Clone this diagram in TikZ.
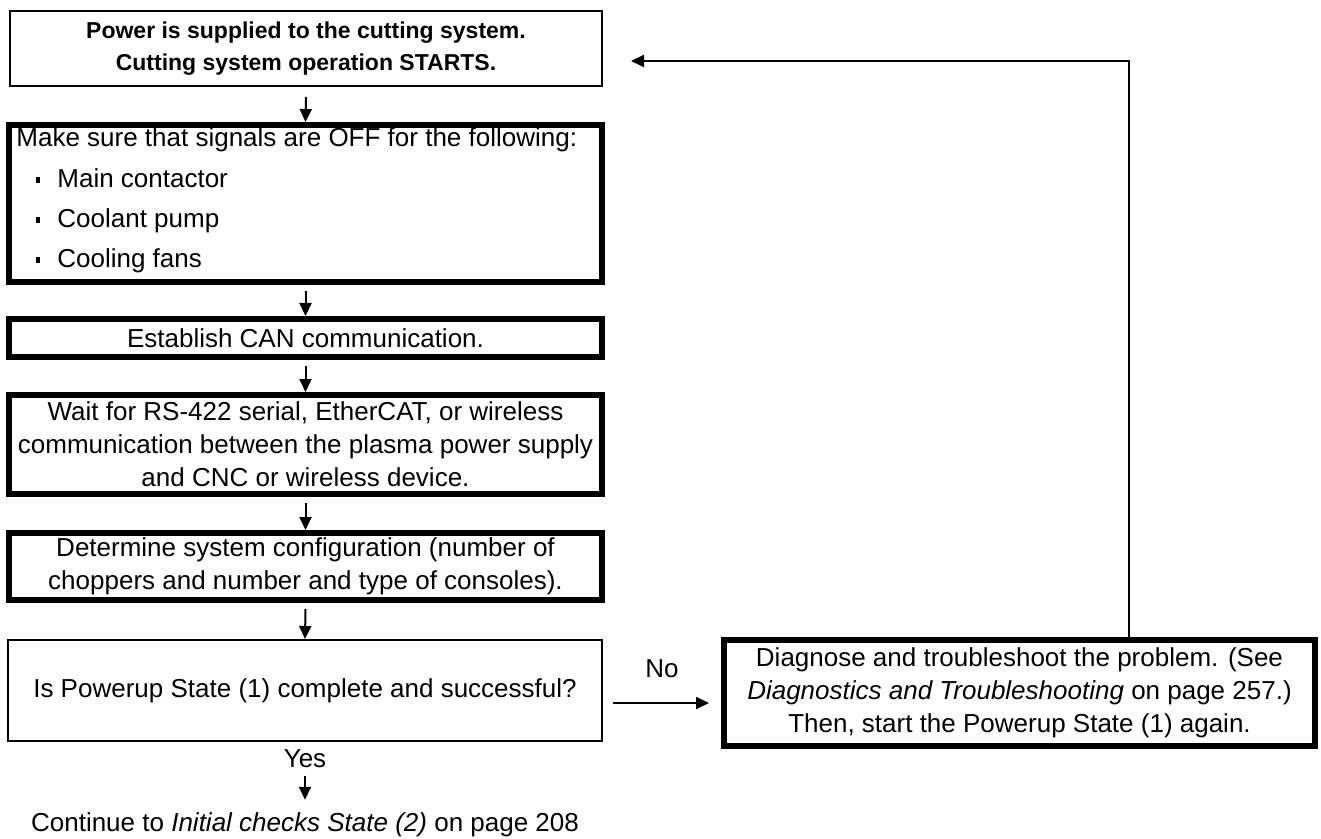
\documentclass[tikz,border=0pt]{standalone}
\usepackage{fontspec}
\setmainfont{Liberation Sans}
\usetikzlibrary{arrows.meta}
\newcommand\myBody{\fontsize{13}{16.5}\selectfont}
\newcommand\myTitle{\fontsize{11.5}{16}\selectfont\bfseries}
\tikzset{
  thinbox/.style={draw, line width=1pt, inner sep=0pt, align=center, font=\myBody},
  thickbox/.style={draw, line width=3pt, inner sep=0pt, align=center, font=\myBody, minimum width=296.5pt},
  arr/.style={-{Triangle[length=6.5pt,width=6pt]}, line width=1pt},
  txt/.style={inner sep=0pt, font=\myBody},
  bul/.style={fill, inner sep=0pt, minimum width=2.4pt, minimum height=2.8pt}
}
\begin{document}
\begin{tikzpicture}[x=0.5pt,y=-0.5pt]
\useasboundingbox (0,0) rectangle (1321,839);
% main column
\node[thinbox, minimum width=296pt, minimum height=37.5pt, font=\myTitle] (top) at (306,48.5)
  {Power is supplied to the cutting system.\\Cutting system operation STARTS.};
\node[thickbox, minimum height=78.5pt] (sig) at (305.5,203.5) {};
\node[txt, anchor=base west] (sig0) at (16,147) {Make sure that signals are OFF for the following:};
\node[txt, anchor=base west] (sig1) at (57,188) {Main contactor};
\node[txt, anchor=base west] (sig2) at (57,228) {Coolant pump};
\node[txt, anchor=base west] (sig3) at (57,268) {Cooling fans};
\node[bul] (b1) at (38,180) {};
\node[bul] (b2) at (38,220) {};
\node[bul] (b3) at (38,260) {};
\node[thickbox, minimum height=19pt] (can) at (305.5,338) {Establish CAN communication.};
\node[thickbox, minimum height=49.5pt] (wait) at (305.5,444.5)
  {Wait for RS-422 serial, EtherCAT, or wireless\\communication between the plasma power supply\\and CNC or wireless device.};
\node[thickbox, minimum height=33.5pt] (det) at (305.5,566.5)
  {Determine system configuration (number of\\choppers and number and type of consoles).};
\node[thinbox, minimum width=297pt, minimum height=50.5pt] (dec) at (305,690.5)
  {Is Powerup State (1) complete and successful?};
\node[thickbox, minimum width=295.5pt, minimum height=53pt] (diag) at (1019.5,693)
  {Diagnose and troubleshoot the problem. (See\\\textit{Diagnostics and Troubleshooting} on page 257.)\\Then, start the Powerup State (1) again.};
\node[txt, anchor=base] (no) at (662,677) {No};
\node[txt, anchor=base] (yes) at (305,767) {Yes};
\node[txt, anchor=base] (cont) at (305,831) {Continue to \textit{Initial checks State (2)} on page 208};
% connectors
\draw[arr] ([yshift=-5pt]top.south) -- (sig.north);
\draw[arr] ([yshift=-3pt]sig.south) -- (can.north);
\draw[arr] ([yshift=-3pt]can.south) -- (wait.north);
\draw[arr] ([yshift=-3pt]wait.south) -- (det.north);
\draw[arr] ([yshift=-3pt]det.south) -- (dec.north);
\draw[arr] ([yshift=-4pt]yes.south) -- ([yshift=6pt]cont.north);
\draw[arr] ([xshift=5pt,yshift=-6.25pt]dec.east) -- ([xshift=-6pt,yshift=-6.25pt]dec.east -| diag.west);
\coordinate (fbc) at (1129,61);
\coordinate (fbt) at (631,61);
\draw[arr] (diag.north -| fbc) -- (fbc) -- (fbt);
\end{tikzpicture}
\end{document}
